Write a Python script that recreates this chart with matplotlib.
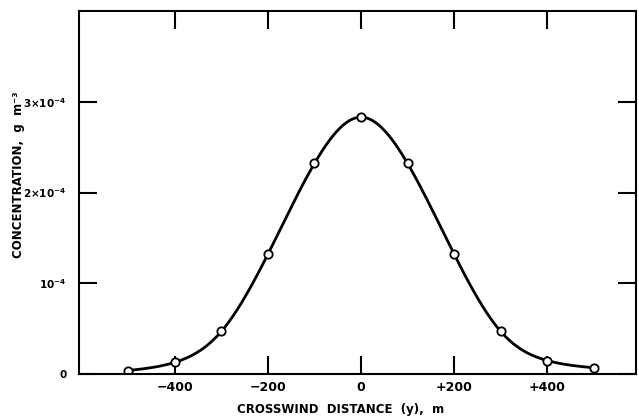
import numpy as np
import matplotlib
matplotlib.use("Agg")
import matplotlib.pyplot as plt

# Data
distance = [-500, -400, -300, -200, -100, 0, 100, 200, 300, 400, 500]
concentration = [0.04e-4, 0.13e-4, 0.47e-4, 1.32e-4, 2.32e-4, 2.83e-4,
                 2.32e-4, 1.32e-4, 0.47e-4, 0.15e-4, 0.07e-4]

x_ticks = [-400, -200, 0, 200, 400]
x_labels = ["\u2212400", "\u2212200", "0", "+200", "+400"]
y_ticks = [0, 1e-4, 2e-4, 3e-4]
y_labels = ["0", r"$\mathbf{10^{-4}}$", r"$\mathbf{2{\times}10^{-4}}$",
            r"$\mathbf{3{\times}10^{-4}}$"]


def natural_spline(x, y, xs):
    # natural cubic spline through the measured points, for the smooth line
    x = np.asarray(x, float)
    y = np.asarray(y, float)
    n = len(x)
    h = np.diff(x)
    A = np.zeros((n, n))
    b = np.zeros(n)
    A[0, 0] = A[-1, -1] = 1
    for i in range(1, n - 1):
        A[i, i - 1] = h[i - 1]
        A[i, i] = 2 * (h[i - 1] + h[i])
        A[i, i + 1] = h[i]
        b[i] = 6 * ((y[i + 1] - y[i]) / h[i] - (y[i] - y[i - 1]) / h[i - 1])
    m = np.linalg.solve(A, b)
    idx = np.clip(np.searchsorted(x, xs) - 1, 0, n - 2)
    x0, x1 = x[idx], x[idx + 1]
    hh = x1 - x0
    t0 = x1 - xs
    t1 = xs - x0
    return (m[idx] * t0**3 / (6 * hh) + m[idx + 1] * t1**3 / (6 * hh)
            + (y[idx] / hh - m[idx] * hh / 6) * t0
            + (y[idx + 1] / hh - m[idx + 1] * hh / 6) * t1)


plt.rcParams["font.family"] = ["DejaVu Sans"]
plt.rcParams["font.weight"] = "bold"
plt.rcParams["mathtext.fontset"] = "dejavusans"

fig = plt.figure(figsize=(6.39, 4.19), dpi=100)
ax = fig.add_axes([0.124, 0.107, 0.871, 0.867])

xs = np.linspace(distance[0], distance[-1], 400)
ax.plot(xs, natural_spline(distance, concentration, xs), color="black", lw=2.0)
ax.plot(distance, concentration, "o", ms=6, mfc="white", mec="black", mew=1.3)

ax.set_xlim(-605, 590)
ax.set_ylim(0, 4e-4)

ax.set_xticks(x_ticks)
ax.set_xticklabels(x_labels, fontsize=9, fontweight="bold")
ax.set_yticks(y_ticks)
ax.set_yticklabels(y_labels, fontsize=7.5)
ax.tick_params(direction="in", length=13, width=1.5, top=True, right=True, pad=5)
ax.tick_params(axis="y", pad=9)

for s in ax.spines.values():
    s.set_linewidth(1.5)

ax.set_xlabel("CROSSWIND  DISTANCE  (y),  m", fontsize=8.5, fontweight="bold")
ax.xaxis.set_label_coords(0.47, -0.078)
ax.set_ylabel("CONCENTRATION,  g  m\u207b\u00b3", fontsize=8.5, fontweight="bold")
ax.yaxis.set_label_coords(-0.097, 0.55)

fig.savefig("out.png", dpi=100)
